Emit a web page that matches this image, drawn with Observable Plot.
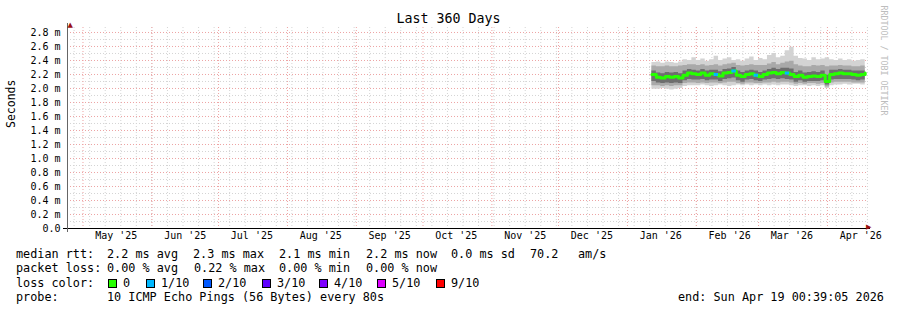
<!DOCTYPE html>
<html><head><meta charset="utf-8">
<script src="https://cdn.jsdelivr.net/npm/d3@7"></script>
<script src="https://cdn.jsdelivr.net/npm/@observablehq/plot@0.6"></script>
<style>
body{margin:0;background:#fff;}
#wrap{position:relative;width:897px;height:310px;background:#fff;overflow:hidden;font-family:"DejaVu Sans Mono",monospace;color:#000;}
#chart{position:absolute;left:0;top:0;}
.t{position:absolute;white-space:pre;font-size:11.8px;line-height:14px;}
.sq{position:absolute;width:7px;height:7px;border:1px solid #000;}
#title{position:absolute;left:0;width:897px;text-align:center;top:11px;font-size:13.3px;line-height:16px;}
</style></head><body>
<div id="wrap"><div id="chart"></div><div id="title">Last 360 Days</div></div>
<script>
// ---- time window ----
const startTime = "2025-04-24T00:39:05Z";
const endTime = "2026-04-19T00:39:05Z";

// ---- axis labels ----
const monthLabels = ["May '25","Jun '25","Jul '25","Aug '25","Sep '25","Oct '25","Nov '25","Dec '25","Jan '26","Feb '26","Mar '26","Apr '26"];
const yMajor = [0.2,0.4,0.6,0.8,1.0,1.2,1.4,1.6,1.8,2.0,2.2,2.4,2.6,2.8];
const yMinor = [0.1,0.3,0.5,0.7,0.9,1.1,1.3,1.5,1.7,1.9,2.1,2.3,2.5,2.7];
const yLabels = [0,0.2,0.4,0.6,0.8,1.0,1.2,1.4,1.6,1.8,2.0,2.2,2.4,2.6,2.8];

// ---- samples (every 2 days), RTT in milliseconds ----
const sampleDates = [
 "2026-01-12","2026-01-14","2026-01-16","2026-01-18","2026-01-20","2026-01-22","2026-01-24","2026-01-26","2026-01-28","2026-01-30",
 "2026-02-01","2026-02-03","2026-02-05","2026-02-07","2026-02-09","2026-02-11","2026-02-13","2026-02-15","2026-02-17","2026-02-19","2026-02-21","2026-02-23","2026-02-25","2026-02-27",
 "2026-03-01","2026-03-03","2026-03-05","2026-03-07","2026-03-09","2026-03-11","2026-03-13","2026-03-15","2026-03-17","2026-03-19","2026-03-21","2026-03-23","2026-03-25","2026-03-27","2026-03-29","2026-03-31",
 "2026-04-02","2026-04-04","2026-04-06","2026-04-08","2026-04-10","2026-04-12","2026-04-14","2026-04-16","2026-04-18"];
const median = [
 2.20,2.16,2.15,2.17,2.16,2.17,2.15,2.19,2.22,2.21,
 2.20,2.22,2.19,2.21,2.20,2.18,2.22,2.23,2.25,2.19,2.17,2.20,2.21,2.19,
 2.17,2.20,2.22,2.23,2.21,2.23,2.22,2.20,2.17,2.19,2.16,2.17,2.18,2.17,2.19,2.10,
 2.20,2.21,2.22,2.21,2.21,2.20,2.19,2.20,2.22];
const lossCount = [
 0,0,0,0,0,0,0,0,0,0,
 0,0,0,0,1,0,0,0,1,0,0,0,0,1,
 0,0,0,0,0,0,1,0,0,0,0,0,0,0,0,0,
 0,0,0,0,0,0,0,0,0];
const smokeMax = [
 2.37,2.38,2.36,2.38,2.37,2.36,2.38,2.41,2.40,2.44,
 2.40,2.42,2.39,2.41,2.46,2.40,2.42,2.44,2.40,2.41,2.39,2.42,2.45,2.40,
 2.43,2.41,2.47,2.50,2.44,2.46,2.54,2.59,2.46,2.43,2.42,2.40,2.44,2.41,2.42,2.44,
 2.41,2.40,2.42,2.40,2.41,2.39,2.40,2.41,2.40];
const smokeHi2 = [
 2.32,2.31,2.31,2.32,2.31,2.31,2.32,2.33,2.34,2.34,
 2.33,2.34,2.32,2.33,2.34,2.32,2.34,2.35,2.36,2.33,2.32,2.33,2.34,2.33,
 2.33,2.33,2.35,2.37,2.34,2.36,2.38,2.39,2.34,2.32,2.31,2.31,2.33,2.32,2.33,2.31,
 2.32,2.32,2.33,2.32,2.32,2.31,2.31,2.32,2.32];
const smokeHi3 = [
 2.25,2.22,2.21,2.23,2.22,2.23,2.21,2.25,2.27,2.26,
 2.25,2.27,2.25,2.26,2.26,2.24,2.27,2.28,2.30,2.25,2.23,2.25,2.26,2.25,
 2.23,2.25,2.27,2.29,2.27,2.29,2.29,2.28,2.23,2.25,2.22,2.23,2.24,2.23,2.25,2.19,
 2.26,2.26,2.27,2.26,2.26,2.25,2.25,2.25,2.27];
const smokeLo3 = [
 2.10,2.08,2.07,2.08,2.07,2.08,2.07,2.11,2.13,2.12,
 2.12,2.13,2.11,2.12,2.12,2.10,2.13,2.14,2.15,2.11,2.09,2.12,2.13,2.11,
 2.10,2.12,2.13,2.14,2.13,2.14,2.13,2.12,2.09,2.11,2.09,2.10,2.10,2.10,2.11,2.05,
 2.12,2.13,2.13,2.13,2.13,2.12,2.11,2.12,2.13];
const smokeLo2 = [
 2.04,2.04,2.03,2.04,2.03,2.04,2.04,2.07,2.08,2.08,
 2.07,2.08,2.07,2.08,2.08,2.07,2.08,2.09,2.09,2.07,2.06,2.08,2.08,2.07,
 2.07,2.08,2.08,2.09,2.08,2.09,2.09,2.08,2.06,2.07,2.06,2.07,2.07,2.06,2.07,2.02,
 2.08,2.09,2.09,2.09,2.09,2.08,2.08,2.08,2.09];
const smokeMin = [
 1.99,1.99,2.00,1.99,1.98,1.99,2.00,2.03,2.04,2.04,
 2.04,2.05,2.04,2.03,2.04,2.05,2.04,2.03,2.04,2.05,2.04,2.05,2.04,2.05,
 2.04,2.05,2.04,2.05,2.04,2.05,2.05,2.04,2.03,2.04,2.04,2.03,2.04,2.03,2.04,2.00,
 2.04,2.05,2.05,2.06,2.05,2.06,2.06,2.05,2.06];

// ---- loss legend ----
const lossColors = ["#26ff00","#00b8ff","#0059ff","#5e00ff","#7e00ff","#dd00ff","#ff0000"];
const lossLabels = ["0","1/10","2/10","3/10","4/10","5/10","9/10"];

// ---- build ----
const start = new Date(startTime), end = new Date(endTime);
const rows = sampleDates.map((d, i) => ({
  date: new Date(d + "T00:00:00Z"), med: median[i], loss: lossCount[i],
  lo1: smokeMin[i], hi1: smokeMax[i], lo2: smokeLo2[i], hi2: smokeHi2[i], lo3: smokeLo3[i], hi3: smokeHi3[i],
  next: i + 1 < sampleDates.length ? new Date(sampleDates[i + 1] + "T00:00:00Z") : end
}));
const lossRows = rows.filter(r => r.loss > 0);
const monthStarts = d3.utcMonth.range(start, end);
const monthLabelDates = monthStarts.map(d => d3.utcDay.offset(d, 15));
const weekLines = d3.utcSunday.range(start, end);
const gridGray = "#d4d4d4", gridRed = "#eda3a3", arrowColor = "#9b1010";
const fmt = d => d === 0 ? "0.0" : d.toFixed(1) + " m";

const chart = Plot.plot({
  width: 897, height: 246,
  marginLeft: 67, marginRight: 30, marginTop: 27, marginBottom: 18,
  x: {type: "utc", domain: [start, end], axis: null},
  y: {domain: [0, 2.871], axis: null},
  style: {fontFamily: "DejaVu Sans Mono", fontSize: "10px", background: "transparent", overflow: "visible", color: "#000"},
  marks: [
    Plot.ruleY(yMinor, {stroke: gridGray, strokeDasharray: "1,2"}),
    Plot.ruleX(weekLines, {stroke: gridGray, strokeDasharray: "1,2"}),
    Plot.ruleY(yMajor, {stroke: gridRed, strokeDasharray: "1,2"}),
    Plot.ruleX(monthStarts, {stroke: gridRed, strokeDasharray: "1,2"}),
    Plot.areaY(rows, {x: "date", y1: "lo1", y2: "hi1", fill: "#d3d3d3", curve: "step-after"}),
    Plot.areaY(rows, {x: "date", y1: "lo2", y2: "hi2", fill: "#a9a9a9", curve: "step-after"}),
    Plot.areaY(rows, {x: "date", y1: "lo3", y2: "hi3", fill: "#6e6e6e", curve: "step-after"}),
    Plot.line(rows, {x: "date", y: "med", stroke: lossColors[0], strokeWidth: 3, curve: "step-after"}),
    Plot.ruleY(lossRows, {y: "med", x1: "date", x2: "next", stroke: d => lossColors[d.loss], strokeWidth: 3}),
    Plot.ruleY([0], {stroke: "#000", insetLeft: -4, insetRight: -3}),
    Plot.ruleX([start], {stroke: "#666", insetTop: -4, insetBottom: -4}),
    Plot.text(["\u25B2"], {frameAnchor: "top-left", dy: -5, fill: arrowColor, fontSize: 7, fontFamily: "DejaVu Sans"}),
    Plot.text(["\u25B6"], {frameAnchor: "bottom-right", dx: 4, fill: arrowColor, fontSize: 7, fontFamily: "DejaVu Sans"}),
    Plot.text(yLabels, {y: d => d, frameAnchor: "left", dx: -7, textAnchor: "end", text: fmt, fill: "#000"}),
    Plot.text(monthLabelDates, {x: d => d, frameAnchor: "bottom", dy: 10, text: (d, i) => monthLabels[i], fill: "#000"}),
    Plot.text(["Seconds"], {frameAnchor: "left", dx: -56, rotate: -90, fontSize: 11.5, fill: "#000"}),
    Plot.text(["RRDTOOL / TOBI OETIKER"], {frameAnchor: "top-right", dx: 19, dy: -22, rotate: 90, textAnchor: "start", fontSize: 8.3, fill: "#bdbdbd"})
  ]
});
document.getElementById("chart").appendChild(chart);

// ---- legend text (HTML below/around the svg) ----
const wrap = document.getElementById("wrap");
function put(x, yc, s, extra) {
  const el = document.createElement("div");
  el.className = "t"; el.textContent = s;
  el.style.left = x + "px"; el.style.top = (yc - 7) + "px";
  if (extra) Object.assign(el.style, extra);
  wrap.appendChild(el);
}
const legendRtt = [[16,"median rtt:"],[107,"2.2 ms avg"],[193,"2.3 ms max"],[279,"2.1 ms min"],[366,"2.2 ms now"],[451,"0.0 ms sd"],[530,"70.2"],[578,"am/s"]];
const legendLoss = [[16,"packet loss:"],[107,"0.00 % avg"],[194,"0.22 % max"],[279,"0.00 % min"],[366,"0.00 % now"]];
const legendProbe = [[16,"probe:"],[107,"10 ICMP Echo Pings (56 Bytes) every 80s"],[678,"end: Sun Apr 19 00:39:05 2026"]];
legendRtt.forEach(([x, s]) => put(x, 254, s));
legendLoss.forEach(([x, s]) => put(x, 268, s));
put(16, 282.5, "loss color:");
const sqX = [108,146,203,262,319,377,436];
lossColors.forEach((c, i) => {
  const sq = document.createElement("div");
  sq.className = "sq"; sq.style.left = sqX[i] + "px"; sq.style.top = "279px"; sq.style.background = c;
  wrap.appendChild(sq);
  put(sqX[i] + 15, 282.5, lossLabels[i]);
});
legendProbe.forEach(([x, s]) => put(x, 296.5, s));
</script>
</body></html>
